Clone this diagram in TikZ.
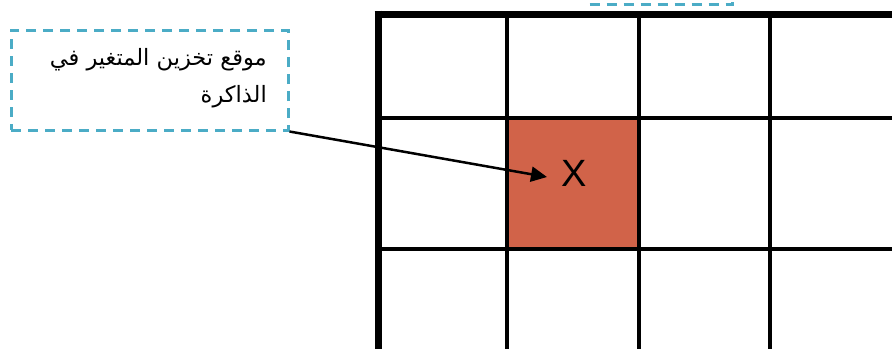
\documentclass[tikz,border=0pt]{standalone}
\usepackage{fontspec}
\setmainfont{Liberation Sans}
\newfontfamily\arabicfont[Script=Arabic]{DejaVu Sans}
\TeXXeTstate=1
\usetikzlibrary{arrows.meta}
\definecolor{dashblue}{RGB}{75,172,198}
\definecolor{cellred}{RGB}{209,99,73}
\tikzset{
  dashbox/.style={draw=dashblue, line width=3pt, dash pattern=on 10pt off 7pt, rectangle, inner sep=0pt},
  thickgrid/.style={line width=7pt, black},
  thingrid/.style={line width=3.5pt, black},
  arabtxt/.style={font=\arabicfont\fontsize{22.5}{26}\selectfont, inner sep=0pt},
  conn/.style={line width=2.5pt, -{Triangle[length=16pt,width=15pt]}}
}
\begin{document}
\begin{tikzpicture}[x=1pt,y=-1pt]
\useasboundingbox (0,0) rectangle (892,349);
\clip (0,0) rectangle (892,349);
\fill[white] (0,0) rectangle (892,349);
% red cell
\node[fill=cellred, minimum width=132pt, minimum height=131pt, inner sep=0pt] (cell) at (573,183.5) {};
% grid
\draw[thingrid] (507,14) -- (507,349);
\draw[thingrid] (639,14) -- (639,349);
\draw[thingrid] (770,14) -- (770,349);
\draw[thingrid] (378,118) -- (892,118);
\draw[thingrid] (378,249) -- (892,249);
\draw[thickgrid] (378,10.5) -- (378,349);
\draw[thickgrid] (374.5,14) -- (892,14);
% top dashed fragment
\node[dashbox, minimum width=143pt, minimum height=60pt, anchor=south west] (topbox) at (588,6) {};
% X
\node[font=\fontsize{38}{40}\selectfont, inner sep=0pt, anchor=base] (xv) at (574,186) {X};
% callout box
\node[dashbox, minimum width=277pt, minimum height=100pt] (box) at (149.5,80) {};
\node[arabtxt, anchor=base east] (l1) at (267,65) {\beginR موقع تخزين المتغير في\endR};
\node[arabtxt, anchor=base east] (l2) at (267,102) {\beginR الذاكرة\endR};
\coordinate (tip) at (547,177);
\draw[conn] (box.south east) -- (tip);
\end{tikzpicture}
\end{document}
